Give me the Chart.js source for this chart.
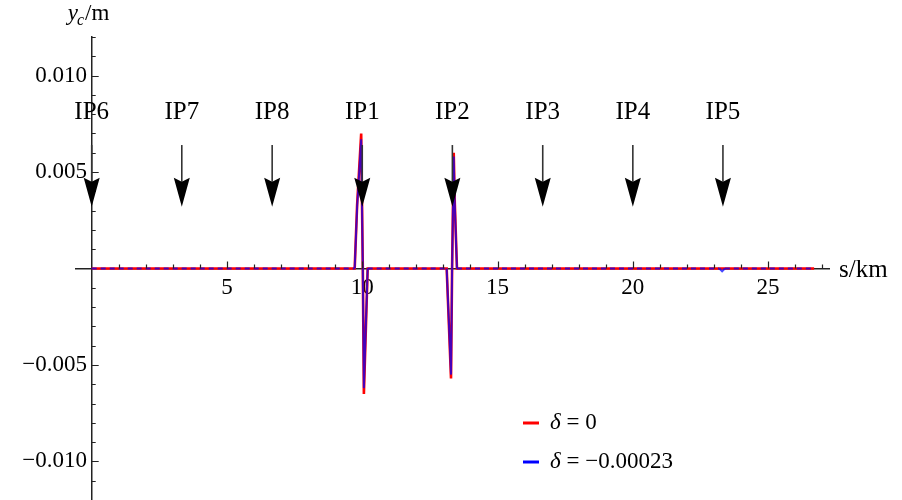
<!DOCTYPE html>
<html>
<head>
<meta charset="utf-8">
<title>y_c along s</title>
<script src="https://cdn.jsdelivr.net/npm/chart.js@4/dist/chart.umd.min.js"></script>
<style>
  html, body { margin: 0; padding: 0; background: #fff; overflow: hidden; }
</style>
</head>
<body>
<canvas id="ycChart" width="902" height="500"></canvas>
<script>
// s in km, y_c in m
const redS = [0, 9.72, 9.81, 9.96, 10.02, 10.06, 10.2, 13.12, 13.28, 13.32, 13.38, 13.42, 13.5, 26.7];
const redY = [0, 0, 0.0033, 0.0070, 0, -0.0065, 0, 0, -0.0057, 0, 0.0060, 0.0034, 0, 0];

const blueS = [0, 9.72, 9.81, 9.96, 10.02, 10.06, 10.2, 13.12, 13.28, 13.32, 13.38, 13.42, 13.5, 23.2, 23.3, 23.4, 26.7];
const blueY = [0, 0, 0.0032, 0.0067, 0, -0.0062, 0, 0, -0.0055, 0, 0.0058, 0.0033, 0, 0, -0.00015, 0, 0];

const seriesLabels = ["δ = 0", "δ = \u22120.00023"];
const seriesColors = ["#ff0000", "#0000ff"];

// intersection points along the route
const ipNames = ["IP6", "IP7", "IP8", "IP1", "IP2", "IP3", "IP4", "IP5"];
const ipS = [0, 3.33, 6.67, 10, 13.33, 16.67, 20, 23.33];

// labelled ticks
const xTickValues = [5, 10, 15, 20, 25];
const yTickValues = [-0.010, -0.005, 0.005, 0.010];

const serif = '"Liberation Serif", "Times New Roman", serif';
Chart.defaults.font.family = serif;
Chart.defaults.color = "#000";

function toPoints(xs, ys) {
  return xs.map((s, i) => ({ x: s, y: ys[i] }));
}

// small tick marks (major every 5 units) drawn inward from the axes
const axisTicks = {
  id: "axisTicks",
  afterDatasetsDraw(chart) {
    const { ctx, scales: { x, y } } = chart;
    const x0 = x.getPixelForValue(0);
    const y0 = y.getPixelForValue(0);
    ctx.save();
    ctx.strokeStyle = "#222";
    ctx.lineWidth = 1.2;
    ctx.beginPath();
    for (let s = 1; s <= Math.floor(x.max); s++) {
      const px = Math.round(x.getPixelForValue(s)) + 0.5;
      const len = s % 5 === 0 ? 7 : 4;
      ctx.moveTo(px, y0);
      ctx.lineTo(px, y0 - len);
    }
    for (let k = -12; k <= 12; k++) {
      if (k === 0) continue;
      const py = Math.round(y.getPixelForValue(k / 1000)) + 0.5;
      const len = k % 5 === 0 ? 7 : 4;
      ctx.moveTo(x0, py);
      ctx.lineTo(x0 + len, py);
    }
    ctx.stroke();
    ctx.restore();
  }
};

// IP arrows with their names
const ipArrows = {
  id: "ipArrows",
  afterDatasetsDraw(chart) {
    const { ctx, scales: { x, y } } = chart;
    const yLabel = y.getPixelForValue(0.0081);
    const yTop = y.getPixelForValue(0.0064);
    const yHead = y.getPixelForValue(0.0047);
    const yTip = y.getPixelForValue(0.0032);
    ctx.save();
    ctx.font = "25px " + serif;
    ctx.textAlign = "center";
    ctx.textBaseline = "middle";
    ipS.forEach((s, i) => {
      const px = x.getPixelForValue(s);
      ctx.strokeStyle = "#333";
      ctx.lineWidth = 1.6;
      ctx.beginPath();
      ctx.moveTo(px, yTop);
      ctx.lineTo(px, yHead + 4);
      ctx.stroke();
      ctx.fillStyle = "#000";
      ctx.beginPath();
      ctx.moveTo(px, yTip);
      ctx.lineTo(px - 8, yHead);
      ctx.lineTo(px, yHead + 4);
      ctx.lineTo(px + 8, yHead);
      ctx.closePath();
      ctx.fill();
      ctx.fillText(ipNames[i], px, yLabel);
    });
    ctx.restore();
  }
};

// axis names and the legend in the lower right
const annotations = {
  id: "annotations",
  afterDraw(chart) {
    const { ctx, scales: { x, y }, chartArea } = chart;
    const x0 = x.getPixelForValue(0);
    const y0 = y.getPixelForValue(0);
    ctx.save();
    ctx.fillStyle = "#000";
    ctx.textBaseline = "alphabetic";
    ctx.textAlign = "left";

    // y_c/m
    let tx = x0 - 24;
    ctx.font = "italic 23px " + serif;
    ctx.fillText("y", tx, 20);
    tx += ctx.measureText("y").width;
    ctx.font = "italic 16px " + serif;
    ctx.fillText("c", tx - 1, 25);
    tx += ctx.measureText("c").width;
    ctx.font = "23px " + serif;
    ctx.fillText("/m", tx, 20);

    // s/km
    ctx.font = "25px " + serif;
    ctx.fillText("s/km", chartArea.right + 10, y0 + 8);

    // legend
    ctx.textBaseline = "middle";
    chart.data.datasets.forEach((ds, i) => {
      const ly = 423 + i * 39;
      ctx.strokeStyle = seriesColors[i];
      ctx.lineWidth = 3;
      ctx.beginPath();
      ctx.moveTo(523, ly);
      ctx.lineTo(539, ly);
      ctx.stroke();
      const label = ds.label;
      ctx.font = "italic 23px " + serif;
      ctx.fillText(label[0], 550, ly);
      const w = ctx.measureText(label[0]).width;
      ctx.font = "23px " + serif;
      ctx.fillText(label.slice(1), 550 + w, ly);
    });
    ctx.restore();
  }
};

const ctx = document.getElementById("ycChart").getContext("2d");
const ycChart = new Chart(ctx, {
  type: "line",
  data: {
    datasets: [
      {
        label: seriesLabels[0],
        data: toPoints(redS, redY),
        borderColor: seriesColors[0],
        borderWidth: 2.6,
        pointRadius: 0,
        tension: 0,
        order: 2
      },
      {
        label: seriesLabels[1],
        data: toPoints(blueS, blueY),
        borderColor: "rgba(0, 0, 255, 0.72)",
        borderWidth: 2,
        pointRadius: 0,
        tension: 0,
        order: 1,
        segment: {
          borderDash: (c) => (c.p0.parsed.y === 0 && c.p1.parsed.y === 0 ? [5, 4] : undefined)
        }
      }
    ]
  },
  options: {
    responsive: false,
    animation: false,
    devicePixelRatio: 1,
    layout: { padding: { left: 76, right: 73, top: 37, bottom: 0 } },
    plugins: {
      legend: { display: false },
      tooltip: { enabled: false }
    },
    scales: {
      x: {
        type: "linear",
        min: -0.58,
        max: 27.25,
        position: { y: 0 },
        grid: { drawOnChartArea: false, drawTicks: false },
        border: { display: true, color: "#222", width: 1.5 },
        ticks: {
          font: { size: 23 },
          color: "#000",
          padding: 6,
          callback: (v) => String(v)
        },
        afterBuildTicks: (scale) => {
          scale.ticks = xTickValues.map((v) => ({ value: v }));
        },
        afterFit: (scale) => {
          scale.paddingLeft = 0;
          scale.paddingRight = 0;
        }
      },
      y: {
        type: "linear",
        min: -0.012,
        max: 0.012,
        position: { x: 0 },
        grid: { drawOnChartArea: false, drawTicks: false },
        border: { display: true, color: "#222", width: 1.5 },
        ticks: {
          font: { size: 23 },
          color: "#000",
          padding: 4,
          // thin space keeps the label clear of the axis line
          callback: (v) => (v < 0 ? "\u2212" : "") + Math.abs(v).toFixed(3) + "\u2009"
        },
        afterBuildTicks: (scale) => {
          scale.ticks = yTickValues.map((v) => ({ value: v }));
        },
        afterFit: (scale) => {
          scale.paddingTop = 0;
          scale.paddingBottom = 0;
        }
      }
    }
  },
  plugins: [axisTicks, ipArrows, annotations]
});
</script>
</body>
</html>
